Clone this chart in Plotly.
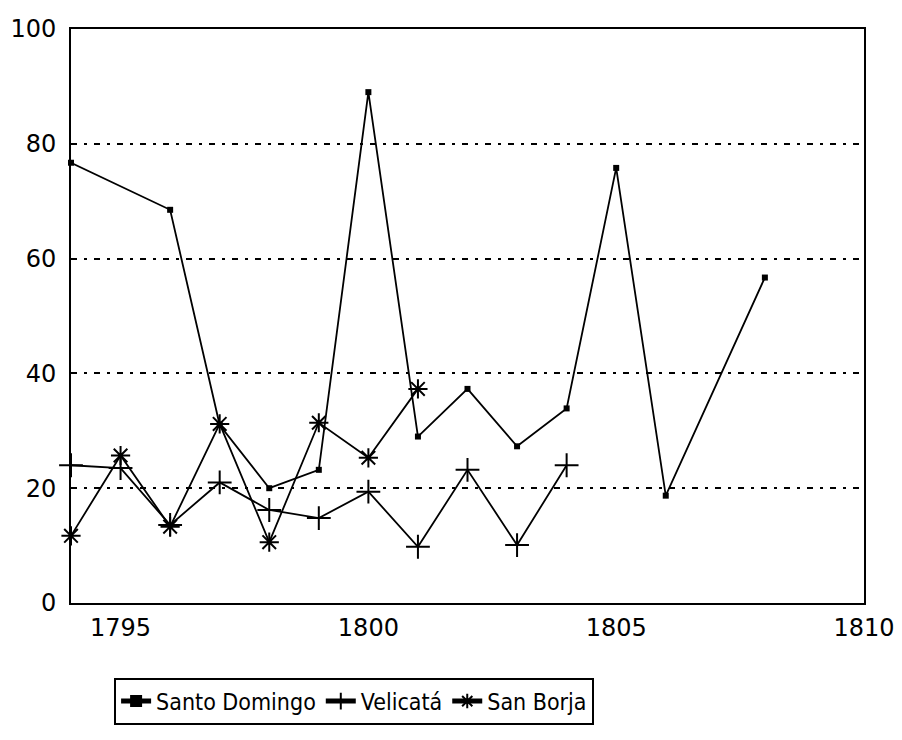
import plotly.graph_objects as go

sd_years = [1794, 1796, 1797, 1798, 1799, 1800, 1801, 1802, 1803, 1804, 1805, 1806, 1808]
sd_values = [76.7, 68.5, 31, 20, 23.2, 89, 29, 37.3, 27.3, 33.9, 75.8, 18.7, 56.7]

ve_years = [1794, 1795, 1796, 1797, 1798, 1799, 1800, 1801, 1802, 1803, 1804]
ve_values = [24, 23.5, 13.6, 21, 16.2, 14.8, 19.4, 9.8, 23.2, 10.1, 24]

sb_years = [1794, 1795, 1796, 1797, 1798, 1799, 1800, 1801]
sb_values = [11.7, 25.7, 13.3, 31.2, 10.6, 31.4, 25.3, 37.3]

x_ticks = [1795, 1800, 1805, 1810]
y_ticks = [0, 20, 40, 60, 80, 100]

fig = go.Figure()
fig.add_trace(go.Scatter(
    x=sd_years, y=sd_values, name="Santo Domingo", mode="lines+markers",
    line=dict(color="black", width=1.8),
    marker=dict(symbol="square", size=6, color="black"),
    cliponaxis=False,
))
fig.add_trace(go.Scatter(
    x=ve_years, y=ve_values, name="Velicatá", mode="lines+markers",
    line=dict(color="black", width=1.8),
    marker=dict(symbol="cross-thin-open", size=17, color="black",
                line=dict(color="black", width=2)),
    cliponaxis=False,
))
fig.add_trace(go.Scatter(
    x=sb_years, y=sb_values, name="San Borja", mode="lines+markers",
    line=dict(color="black", width=1.8),
    marker=dict(symbol="asterisk-open", size=16, color="black",
                line=dict(color="black", width=2)),
    cliponaxis=False,
))

fig.update_layout(
    width=894, height=732,
    margin=dict(l=63, r=38, t=21, b=137, autoexpand=False),
    paper_bgcolor="white", plot_bgcolor="white",
    font=dict(family="DejaVu Sans, sans-serif", size=24, color="black"),
    showlegend=True,
    legend=dict(
        orientation="h", x=0.357, xanchor="center", y=-0.13, yanchor="top",
        bordercolor="black", borderwidth=2, bgcolor="white",
        font=dict(family="DejaVu Sans Condensed, DejaVu Sans, sans-serif", size=23, color="black"),
        itemwidth=30, itemsizing="constant",
    ),
)
fig.update_xaxes(
    range=[1794, 1810], tickvals=x_ticks, ticktext=[str(v) for v in x_ticks],
    showgrid=False, zeroline=False, showline=True, mirror=True, automargin=False,
    linecolor="black", linewidth=2, ticks="", ticklabelstandoff=2,
)
fig.update_yaxes(
    range=[0, 100], tickvals=y_ticks, ticktext=[str(v) for v in y_ticks],
    showgrid=True, gridcolor="black", gridwidth=2, griddash="6px,7px,3px,7px",
    zeroline=False, showline=True, mirror=True, automargin=False,
    linecolor="black", linewidth=2, ticks="", ticklabelstandoff=8,
)

fig.write_html("out.html")
